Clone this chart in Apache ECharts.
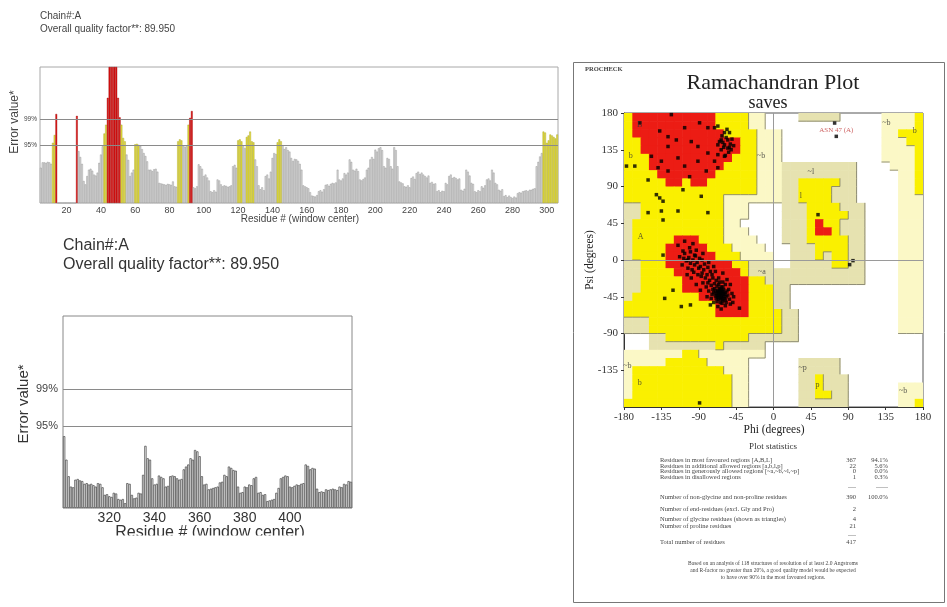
<!DOCTYPE html>
<html><head><meta charset="utf-8">
<script src="https://cdn.jsdelivr.net/npm/echarts@6/dist/echarts.min.js"></script>
<style>html,body{margin:0;padding:0;background:#fff}#c{width:947px;height:607px}</style>
</head><body><div id="c"></div>
<script>
// ---------------- DATA ----------------
const chainLabel = 'Chain#:A';
const qualityLabel = 'Overall quality factor**: 89.950';
const errThresholds = [11.86, 17.19];
const errThresholdLabels = ['95%', '99%'];
const errAxisMax = 27.8;

const topStartResidue = 5;
const topTickLabels = [20, 40, 60, 80, 100, 120, 140, 160, 180, 200, 220, 240, 260, 280, 300];
const topErrors = [
  7.2, 8.3, 8.3, 8.2, 8.4, 8.3, 8.0, 12.3, 13.9, 18.2,
  0, 0, 0, 0, 0, 0, 0, 0, 0, 0, 0,
  17.8, 10.6, 9.4, 8.0, 4.5, 3.8, 5.5, 6.8, 7.0, 6.6,
  5.8, 5.6, 6.2, 8.2, 9.9, 11.6, 14.2, 16.0, 21.5, 27.8,
  27.8, 27.8, 27.8, 27.8, 21.5, 17.5, 16.0, 13.3, 12.6, 9.9,
  8.8, 5.5, 6.2, 6.8, 12.0, 12.1, 11.9, 11.7, 11.0, 10.2,
  9.6, 8.5, 6.8, 6.8, 6.5, 6.9, 7.0, 6.4, 4.1, 4.0,
  3.9, 3.8, 3.7, 3.9, 3.8, 3.7, 4.4, 3.4, 3.3, 12.6,
  13.0, 12.8, 11.7, 11.5, 11.6, 16.0, 17.4, 18.8, 3.2, 3.0,
  3.4, 7.9, 7.5, 7.0, 5.5, 5.8, 5.2, 4.6, 2.4, 2.2,
  2.6, 2.3, 4.8, 4.6, 3.8, 3.4, 3.6, 3.5, 3.3, 3.4,
  3.6, 7.5, 7.8, 7.2, 12.8, 13.0, 12.6, 11.6, 11.2, 13.5,
  13.8, 14.6, 12.6, 12.4, 8.9, 7.5, 3.6, 2.8, 3.2, 2.6,
  5.5, 5.8, 5.0, 6.4, 9.2, 10.2, 10.0, 12.4, 13.0, 12.6,
  11.8, 11.0, 11.4, 10.8, 10.5, 9.2, 8.6, 9.0, 8.9, 8.6,
  8.0, 6.8, 3.6, 3.4, 3.2, 3.0, 2.2, 1.5, 1.4, 1.3,
  1.6, 2.4, 2.6, 2.3, 2.8, 3.7, 3.8, 3.5, 3.9, 4.1,
  4.0, 4.2, 6.8, 4.8, 4.6, 5.0, 6.1, 5.8, 6.2, 8.9,
  8.4, 6.8, 6.6, 7.0, 6.5, 4.8, 4.6, 4.9, 5.2, 6.8,
  7.2, 8.9, 9.4, 9.0, 10.9, 10.5, 11.2, 11.4, 10.8, 7.5,
  7.2, 9.2, 9.0, 7.5, 7.0, 11.4, 10.8, 7.5, 4.4, 4.2,
  4.0, 3.4, 3.3, 3.6, 3.2, 5.1, 5.4, 4.9, 6.1, 6.4,
  5.9, 6.2, 5.8, 5.5, 5.2, 5.6, 4.1, 4.3, 3.9, 4.0,
  2.4, 2.6, 2.2, 2.5, 2.4, 4.1, 3.8, 5.5, 5.8, 5.1,
  5.3, 5.1, 4.8, 5.0, 2.7, 2.5, 2.9, 6.8, 6.4, 5.6,
  4.1, 3.9, 2.4, 2.2, 2.6, 2.4, 3.4, 3.1, 3.6, 4.8,
  5.0, 4.6, 6.8, 6.2, 4.1, 3.8, 2.7, 2.5, 2.8, 1.4,
  1.6, 1.2, 1.5, 1.2, 1.0, 1.3, 1.1, 2.0, 2.2, 2.1,
  2.4, 2.5, 2.6, 2.4, 2.7, 2.7, 2.9, 3.0, 7.5, 8.4,
  9.5, 10.2, 14.6, 14.4, 12.3, 12.8, 14.0, 13.8, 13.5, 13.2, 14.0
];

const bottomStartResidue = 300;
const bottomTickLabels = [320, 340, 360, 380, 400];
const bottomErrors = [
  10.4, 7.0, 4.6, 3.1, 3.0, 4.1, 4.2, 4.0, 3.9, 3.5,
  3.6, 3.4, 3.5, 3.3, 3.1, 3.6, 3.5, 3.0, 1.9, 2.0,
  1.7, 1.6, 2.2, 2.1, 1.3, 1.2, 1.3, 0.7, 3.6, 3.5,
  1.9, 1.4, 1.5, 2.2, 2.1, 4.8, 9.0, 7.2, 7.0, 4.3,
  3.4, 3.5, 4.7, 4.5, 4.3, 3.1, 3.2, 4.6, 4.7, 4.6,
  4.3, 4.1, 4.2, 5.6, 6.0, 6.3, 7.2, 7.0, 8.4, 8.2,
  7.5, 4.6, 3.4, 3.5, 2.7, 2.8, 2.9, 3.0, 3.1, 3.7,
  3.8, 4.8, 4.6, 6.0, 5.8, 5.5, 5.4, 3.1, 2.2, 2.3,
  3.1, 3.0, 3.4, 3.3, 4.3, 4.5, 2.2, 2.3, 1.9, 2.0,
  1.0, 1.1, 1.2, 1.3, 2.2, 2.9, 4.3, 4.5, 4.7, 4.6,
  3.1, 3.0, 3.2, 3.4, 3.3, 3.5, 3.6, 6.3, 6.1, 5.6,
  5.8, 5.7, 2.8, 2.3, 2.4, 2.3, 2.7, 2.6, 2.7, 2.8,
  2.7, 2.6, 3.1, 3.0, 3.5, 3.4, 3.9, 3.8
];

// Ramachandran region map: 36 rows (psi 180 -> -180), 36 cols (phi -180 -> 180), 10-degree cells.
// R core, Y allowed, g / p generously allowed (two tints), . disallowed. Spaces only group 6 columns.
const ramaRegionRows = [
  'YRRRRR RRRRRY YYYpp. ...ggg gg.... .ppppY',
  'YRRRRR RRRRRY YYYpp. ...... ...... .ppppY',
  'YRRRRR RRRRRR YYYYpp p..... ...... .ppYYY',
  'YYRRRR RRRRRR RRYYpp p..... ...... .pppYY',
  'YYRRRR RRRRRR RRYYpp p..... ...... .ppppY',
  'YYYRRR RRRRRR RYYYpp p..... ...... .ppppY',
  'YYYRRR RRRRRR YYYYpp pggggg gggg.. ..pppY',
  'YYYYRR RRRRRY YYYYpp pggggg gggg.. ...ppY',
  'YYYYYR RYRRYY YYYYpp pggYYY YYgg.. ...ppY',
  'YYYYYY YYYYYY YYYYpp pggYYY Yggg.. ...ppY',
  'YYYYYY YYYYYY pppppp pggYYY Yggg.. ...ppp',
  'ggYYYY YYYYYY ppp... .gggYY YYggg. ...ppp',
  'ggYYYY YYYYYY ppp... .gggYY YYYgg. ...ppp',
  'gYYYYY YYYYYY pp.... .gggYR YYggg. ...ppp',
  'gYYYYY YYYYYY ppp... .gggYR RYggg. ...ppp',
  'gYYYYY RRRYYY pppp.. .gggYY YYYgg. ...ppp',
  'gYYYYR RRRRYY Ypppp. ..gggY YYYgg. ...ppp',
  'gYYYYR RRRRRY YYpppp ..gggY gYYgg. ...ppp',
  'ggYYYR RRRRRR RYYggg ..gggg gYYgg. ...ppp',
  'ggYYYY RRRRRR RRYggg gggggg ggggg. ...ppp',
  'ggYYYY YRRRRR RRRYYg gggggg ggggg. ...ppp',
  'ggYYYY YRRRRR RRRYYY gg.... ...... ...ppp',
  'gYYYYY YYYRRR RRRYYY gg.... ...... ...ppp',
  'YYYYYY YYYYYR RRRYYY gg.... ...... ...ppp',
  'YYYYYY YYYYYR RRRYYY Ygg... ...... ...ppp',
  'gggYYY YYYYYY YYYYYY Ygg... ...... ...ppp',
  'gggYYY YYYYYY YYYYYY Ygg... ...... ...ppp',
  '...ggY YYYYYY YYYggg ggg... ...... ......',
  '...ggg gggggY ggggg. ...... ...... ......',
  'pppppp pYYppp ppppp. ...... ...... ......',
  'pppppY YYYYpp ppp... ...ggg gg.... ......',
  'pYYYYY YYYYYY ppp... ...ggg gg.... ......',
  'pYYYYY YYYYYY Ypp... ...ggY ggg... ......',
  'pYYYYY YYYYYY Ypp... ...ggY ggg... ...ppp',
  'pYYYYY YYYYYY Ypp... ...ggY Ygg... ...ppp',
  'YYYYYY YYYYYY Ypp... ...ggg ggg... ...ppY'
];
const ramaRegionCodes = ['R', 'Y', 'g', 'p'];
const ramaRegionColors = ['#ec1c14', '#faf000', '#e6e2b0', '#fbf8c6'];
const ramaRegionRank = { R: 3, Y: 2, g: 1, p: 1, '.': 0 };

// residues (phi, psi)
const ramaPoints = [
  [-123,178],[-161,168],[-137,158],[-127,151],[-107,162],[-89,168],[-79,162],[-71,162],[-67,164],
  [-59,156],[-53,156],[-55,147],[-63,147],[-67,141],[-59,141],[-55,137],[-51,135],[-63,135],
  [-67,129],[-59,127],[-71,121],[-79,131],[-91,139],[-99,145],[-117,147],[-127,139],[-147,127],
  [-135,121],[-115,125],[-107,115],[-91,121],[-101,102],[-127,109],[-139,113],[-81,109],[-67,113],
  [-177,115],[-167,115],[-151,98],[-109,86],[-141,80],[-137,76],[-133,72],[-87,78],[-151,58],
  [-135,60],[-115,60],[-79,58],[-133,49],
  [-57,150],[-52,142],[-60,138],[-54,132],[-62,152],[-56,160],[-50,148],[-65,145],[-58,128],
  [-53,138],[-61,144],[-48,140],
  [-133,6],[-107,23],[-101,15],[-95,6],[-109,11],[-103,0],[-115,18],[-97,20],
  [-63,-41],[-65,-39],[-62,-44],[-67,-37],[-60,-45],[-64,-42],[-66,-40],[-61,-38],[-68,-43],
  [-63,-46],[-59,-42],[-65,-35],[-70,-38],[-62,-48],[-66,-44],[-58,-40],[-64,-37],[-67,-46],
  [-61,-50],[-69,-41],[-57,-45],[-63,-33],[-71,-35],[-60,-36],[-66,-48],[-64,-52],[-58,-49],
  [-72,-40],[-55,-43],[-68,-32],[-62,-39],[-65,-43],[-60,-41],[-67,-39],[-63,-36],[-70,-44],
  [-59,-47],[-61,-33],[-66,-30],[-73,-36],[-56,-38],[-64,-47],[-69,-47],[-62,-53],[-57,-52],
  [-68,-51],[-74,-42],[-71,-29],[-65,-27],[-75,-31],[-77,-25],[-73,-22],[-79,-28],[-80,-18],
  [-82,-22],[-76,-14],[-84,-12],[-86,-16],[-88,-8],[-83,-5],[-90,-10],[-92,-3],[-95,-6],
  [-89,2],[-97,0],[-100,-4],[-94,5],[-102,3],[-105,-1],[-98,-12],[-87,-20],[-81,-33],[-78,-38],
  [-75,-47],[-72,-52],[-53,-48],[-54,-36],[-58,-30],[-61,-27],[-69,-25],[-85,-28],[-91,-18],
  [-96,-15],[-108,2],[-110,-6],[-103,-10],[-79,-9],[-74,-18],[-66,-22],[-70,-14],[-58,-56],
  [-52,-54],[-50,-41],[-67,-57],[-63,-60],[-76,-55],[-80,-45],[-88,-37],[-93,-30],[-99,-22],
  [-104,-18],[-113,4],[-107,8],[-100,10],[-93,12],[-85,8],[-86,0],[-78,-3],[-72,-8],[-61,-16],
  [-56,-24],[-52,-30],[-48,-45],[-49,-52],
  [-121,-37],[-131,-47],[-111,-57],[-100,-55],[-41,-59],[-89,-175],
  [73.6,167.7],[53.6,55.5],[95.7,-0.8],[91.7,-5.7]
];
const ramaOutliers = [{ name: 'ASN 47 (A)', value: [75.6, 151.4] }];
const ramaRegionLabels = [
  { name: 'B', value: [-161, 166] }, { name: 'b', value: [-172, 128] }, { name: '~b', value: [-15, 128] },
  { name: 'A', value: [-160, 28] }, { name: '~a', value: [-14, -15] }, { name: '~b', value: [-176, -130] },
  { name: 'b', value: [-161, -150] }, { name: '~l', value: [45, 108] }, { name: 'l', value: [33, 78] },
  { name: '~p', value: [35, -132] }, { name: 'p', value: [53, -153] }, { name: '~b', value: [136, 168] },
  { name: 'b', value: [170, 158] }, { name: '~b', value: [156, -160] }
];
const ramaAxisRange = [-180, 180];
const ramaAxisStep = 45;

const statTitle = 'Plot statistics';
const statLabels = [
  'Residues in most favoured regions [A,B,L]',
  'Residues in additional allowed regions [a,b,l,p]',
  'Residues in generously allowed regions [~a,~b,~l,~p]',
  'Residues in disallowed regions',
  'Number of non-glycine and non-proline residues',
  'Number of end-residues (excl. Gly and Pro)',
  'Number of glycine residues (shown as triangles)',
  'Number of proline residues',
  'Total number of residues'
];
const statCounts = ['367', '22', '0', '1', '390', '2', '4', '21', '417'];
const statPercents = ['94.1%', '5.6%', '0.0%', '0.3%', '100.0%', '', '', '', ''];
const statFootnote = [
  'Based on an analysis of 118 structures of resolution of at least 2.0 Angstroms',
  'and R-factor no greater than 20%, a good quality model would be expected',
  'to have over 90% in the most favoured regions.'
];

// ---------------- BUILD ----------------
const SANS = '"Liberation Sans", Arial, sans-serif';
const SERIF = '"Liberation Serif", "Times New Roman", serif';

function barStyle(v, dark) {
  if (v >= errThresholds[1]) return { color: '#e01212', borderColor: '#9a0000', borderWidth: 0.4 };
  if (v >= errThresholds[0]) return { color: '#e9e23a', borderColor: '#a09a20', borderWidth: 0.4 };
  return dark ? { color: '#efefef', borderColor: '#444', borderWidth: 0.7 }
              : { color: '#dadada', borderColor: '#8c8c8c', borderWidth: 0.4 };
}
const topCats = topErrors.map((_, i) => String(topStartResidue + i));
const bottomCats = bottomErrors.map((_, i) => String(bottomStartResidue + i));

function thresholdLines(fontSize, dist) {
  return {
    silent: true, symbol: ['none', 'none'], animation: false,
    lineStyle: { color: '#8a8a8a', type: 'solid', width: 1 },
    label: { show: true, position: 'start', formatter: '{b}', fontSize: fontSize, color: '#444', fontFamily: SANS, distance: dist },
    data: errThresholds.map((t, i) => ({ yAxis: t, name: errThresholdLabels[i] }))
  };
}

const gridRows = ramaRegionRows.map(s => s.replace(/ /g, ''));
const regionData = [];
const edgeData = [];
function rankAt(r, c) {
  if (r < 0 || r > 35 || c < 0 || c > 35) return -1;
  return ramaRegionRank[gridRows[r][c]];
}
gridRows.forEach((row, r) => {
  for (let c = 0; c < 36; c++) {
    const k = ramaRegionCodes.indexOf(row[c]);
    if (k >= 0) regionData.push([-180 + 10 * c, 170 - 10 * r, k]);
    const me = rankAt(r, c);
    if (me >= 1 && me <= 2) {
      const right = rankAt(r, c + 1), below = rankAt(r + 1, c);
      const rFlag = right >= 0 && right < me ? 1 : 0;
      const bFlag = below >= 0 && below < me ? 1 : 0;
      if (rFlag || bFlag) edgeData.push([-180 + 10 * c, 170 - 10 * r, rFlag, bFlag]);
    }
  }
});

const gridBase = { show: true, backgroundColor: 'transparent', containLabel: false, outerBoundsMode: 'none' };

const graphics = [];
function txt(x, y, text, font, fill, align, vAlign, extra) {
  graphics.push(Object.assign({
    type: 'text', x: x, y: y, silent: true,
    style: { text: text, font: font, fill: fill || '#333', textAlign: align || 'left', textVerticalAlign: vAlign || 'middle', verticalAlign: vAlign || 'middle' }
  }, extra || {}));
}
txt(40, 16, chainLabel, '10px ' + SANS, '#444');
txt(40, 29, qualityLabel, '10px ' + SANS, '#444');
txt(15, 122, 'Error value*', '12px ' + SANS, '#444', 'center', 'middle', { rotation: Math.PI / 2 });
txt(300, 219, 'Residue # (window center)', '10px ' + SANS, '#444', 'center');
txt(63, 246, chainLabel, '16px ' + SANS, '#333');
txt(63, 265, qualityLabel, '16px ' + SANS, '#333');
txt(24, 404, 'Error value*', '15px ' + SANS, '#333', 'center', 'middle', { rotation: Math.PI / 2 });
txt(210, 525, 'Residue # (window center)', '16px ' + SANS, '#333', 'center', 'top');
graphics.push({ type: 'rect', silent: true, z: 100, shape: { x: 90, y: 535.5, width: 260, height: 30 }, style: { fill: '#fff' } });
graphics.push({ type: 'rect', silent: true, shape: { x: 573.5, y: 62.5, width: 371, height: 540 }, style: { fill: 'none', stroke: '#777', lineWidth: 1 } });
txt(585, 69, 'PROCHECK', 'bold 6.5px ' + SERIF, '#444');
txt(773, 83, 'Ramachandran Plot', '22px ' + SERIF, '#222', 'center');
txt(768, 103, 'saves', '18px ' + SERIF, '#222', 'center');
txt(774, 430, 'Phi (degrees)', '11.5px ' + SERIF, '#222', 'center');
txt(590, 260, 'Psi (degrees)', '11.5px ' + SERIF, '#222', 'center', 'middle', { rotation: Math.PI / 2 });
txt(773, 447, statTitle, '9px ' + SERIF, '#333', 'center');
const statY = [460, 466, 471.5, 477, 497, 509, 519, 526, 542];
statLabels.forEach((s, i) => {
  txt(660, statY[i], s, '6.5px ' + SERIF, '#444');
  txt(856, statY[i], statCounts[i], '6.5px ' + SERIF, '#444', 'right');
  if (statPercents[i]) txt(888, statY[i], statPercents[i], '6.5px ' + SERIF, '#444', 'right');
});
txt(856, 487, '----', '6px ' + SERIF, '#666', 'right');
txt(888, 487, '------', '6px ' + SERIF, '#666', 'right');
txt(856, 535, '----', '6px ' + SERIF, '#666', 'right');
statFootnote.forEach((s, i) => txt(773, 564 + i * 7, s, '5.5px ' + SERIF, '#444', 'center'));

const option = {
  animation: false,
  backgroundColor: '#fff',
  grid: [
    Object.assign({ left: 40, top: 67, width: 518, height: 136, borderColor: '#a8a8a8', borderWidth: 1 }, gridBase),
    Object.assign({ left: 63, top: 316, width: 289, height: 192, borderColor: '#888', borderWidth: 1 }, gridBase),
    Object.assign({ left: 624, top: 113, width: 299, height: 294, borderColor: '#555', borderWidth: 1 }, gridBase)
  ],
  xAxis: [
    { gridIndex: 0, type: 'category', data: topCats, boundaryGap: true,
      axisLine: { show: false }, axisTick: { show: false }, splitLine: { show: false },
      axisLabel: { interval: (i, v) => topTickLabels.includes(Number(v)), fontSize: 9, color: '#444', fontFamily: SANS, margin: 3 } },
    { gridIndex: 1, type: 'category', data: bottomCats, boundaryGap: true,
      axisLine: { show: false }, axisTick: { show: false }, splitLine: { show: false },
      axisLabel: { interval: (i, v) => bottomTickLabels.includes(Number(v)), fontSize: 14, color: '#333', fontFamily: SANS, margin: 3 } },
    { gridIndex: 2, type: 'value', min: ramaAxisRange[0], max: ramaAxisRange[1], interval: ramaAxisStep,
      axisLine: { show: true, onZero: false, lineStyle: { color: '#333' } },
      axisTick: { show: true, length: 3, lineStyle: { color: '#333' } }, splitLine: { show: false },
      axisLabel: { fontSize: 11, color: '#333', fontFamily: SERIF, margin: 5 } }
  ],
  yAxis: [
    { gridIndex: 0, type: 'value', min: 0, max: errAxisMax, axisLine: { show: false }, axisTick: { show: false }, axisLabel: { show: false }, splitLine: { show: false } },
    { gridIndex: 1, type: 'value', min: 0, max: errAxisMax, axisLine: { show: false }, axisTick: { show: false }, axisLabel: { show: false }, splitLine: { show: false } },
    { gridIndex: 2, type: 'value', min: ramaAxisRange[0], max: ramaAxisRange[1], interval: ramaAxisStep,
      axisLine: { show: true, onZero: false, lineStyle: { color: '#333' } },
      axisTick: { show: true, length: 3, lineStyle: { color: '#333' } }, splitLine: { show: false },
      axisLabel: { fontSize: 11, color: '#333', fontFamily: SERIF, margin: 6, showMinLabel: false } }
  ],
  series: [
    { type: 'bar', xAxisIndex: 0, yAxisIndex: 0, barCategoryGap: '0%',
      data: topErrors.map(v => ({ value: v, itemStyle: barStyle(v, false) })),
      markLine: thresholdLines(6.5, 3), z: 2 },
    { type: 'bar', xAxisIndex: 1, yAxisIndex: 1, barCategoryGap: '0%',
      data: bottomErrors.map(v => ({ value: v, itemStyle: barStyle(v, true) })),
      markLine: thresholdLines(11, 5), z: 2 },
    { type: 'custom', xAxisIndex: 2, yAxisIndex: 2, data: regionData, encode: { x: 0, y: 1 }, clip: true, silent: true, z: 1,
      renderItem: function (params, api) {
        const a = api.coord([api.value(0), api.value(1) + 10]);
        const b = api.coord([api.value(0) + 10, api.value(1)]);
        return { type: 'rect', shape: { x: a[0], y: a[1], width: b[0] - a[0] + 0.6, height: b[1] - a[1] + 0.6 },
                 style: { fill: ramaRegionColors[api.value(2)] } };
      } },
    { type: 'custom', xAxisIndex: 2, yAxisIndex: 2, data: edgeData, encode: { x: 0, y: 1 }, clip: true, silent: true, z: 2,
      renderItem: function (params, api) {
        const a = api.coord([api.value(0), api.value(1) + 10]);
        const b = api.coord([api.value(0) + 10, api.value(1)]);
        const kids = [];
        const st = { stroke: '#7a7868', lineWidth: 0.8 };
        if (api.value(2)) kids.push({ type: 'line', shape: { x1: b[0], y1: a[1], x2: b[0], y2: b[1] }, style: st });
        if (api.value(3)) kids.push({ type: 'line', shape: { x1: a[0], y1: b[1], x2: b[0], y2: b[1] }, style: st });
        return { type: 'group', children: kids };
      } },
    { type: 'scatter', xAxisIndex: 2, yAxisIndex: 2, data: ramaPoints, symbol: 'rect', symbolSize: 3.5, silent: true,
      itemStyle: { color: '#000' }, z: 4,
      markLine: { silent: true, symbol: ['none', 'none'], label: { show: false },
        lineStyle: { color: '#9a9a9a', type: 'solid', width: 1 }, data: [{ xAxis: 0 }, { yAxis: 0 }] } },
    { type: 'scatter', xAxisIndex: 2, yAxisIndex: 2, data: ramaOutliers, symbol: 'rect', symbolSize: 3.5, silent: true,
      itemStyle: { color: '#000' }, z: 5,
      label: { show: true, formatter: '{b}', position: 'top', distance: 1, fontSize: 7, color: '#c03a3a', fontFamily: SERIF } },
    { type: 'scatter', xAxisIndex: 2, yAxisIndex: 2, data: ramaRegionLabels, symbolSize: 0, silent: true, z: 5,
      label: { show: true, formatter: '{b}', position: 'inside', fontSize: 8, color: '#333', fontFamily: SERIF } }
  ],
  graphic: graphics
};
const chart = echarts.init(document.getElementById('c'), null, { renderer: 'canvas' });
chart.setOption(option);
</script>
</body></html>
